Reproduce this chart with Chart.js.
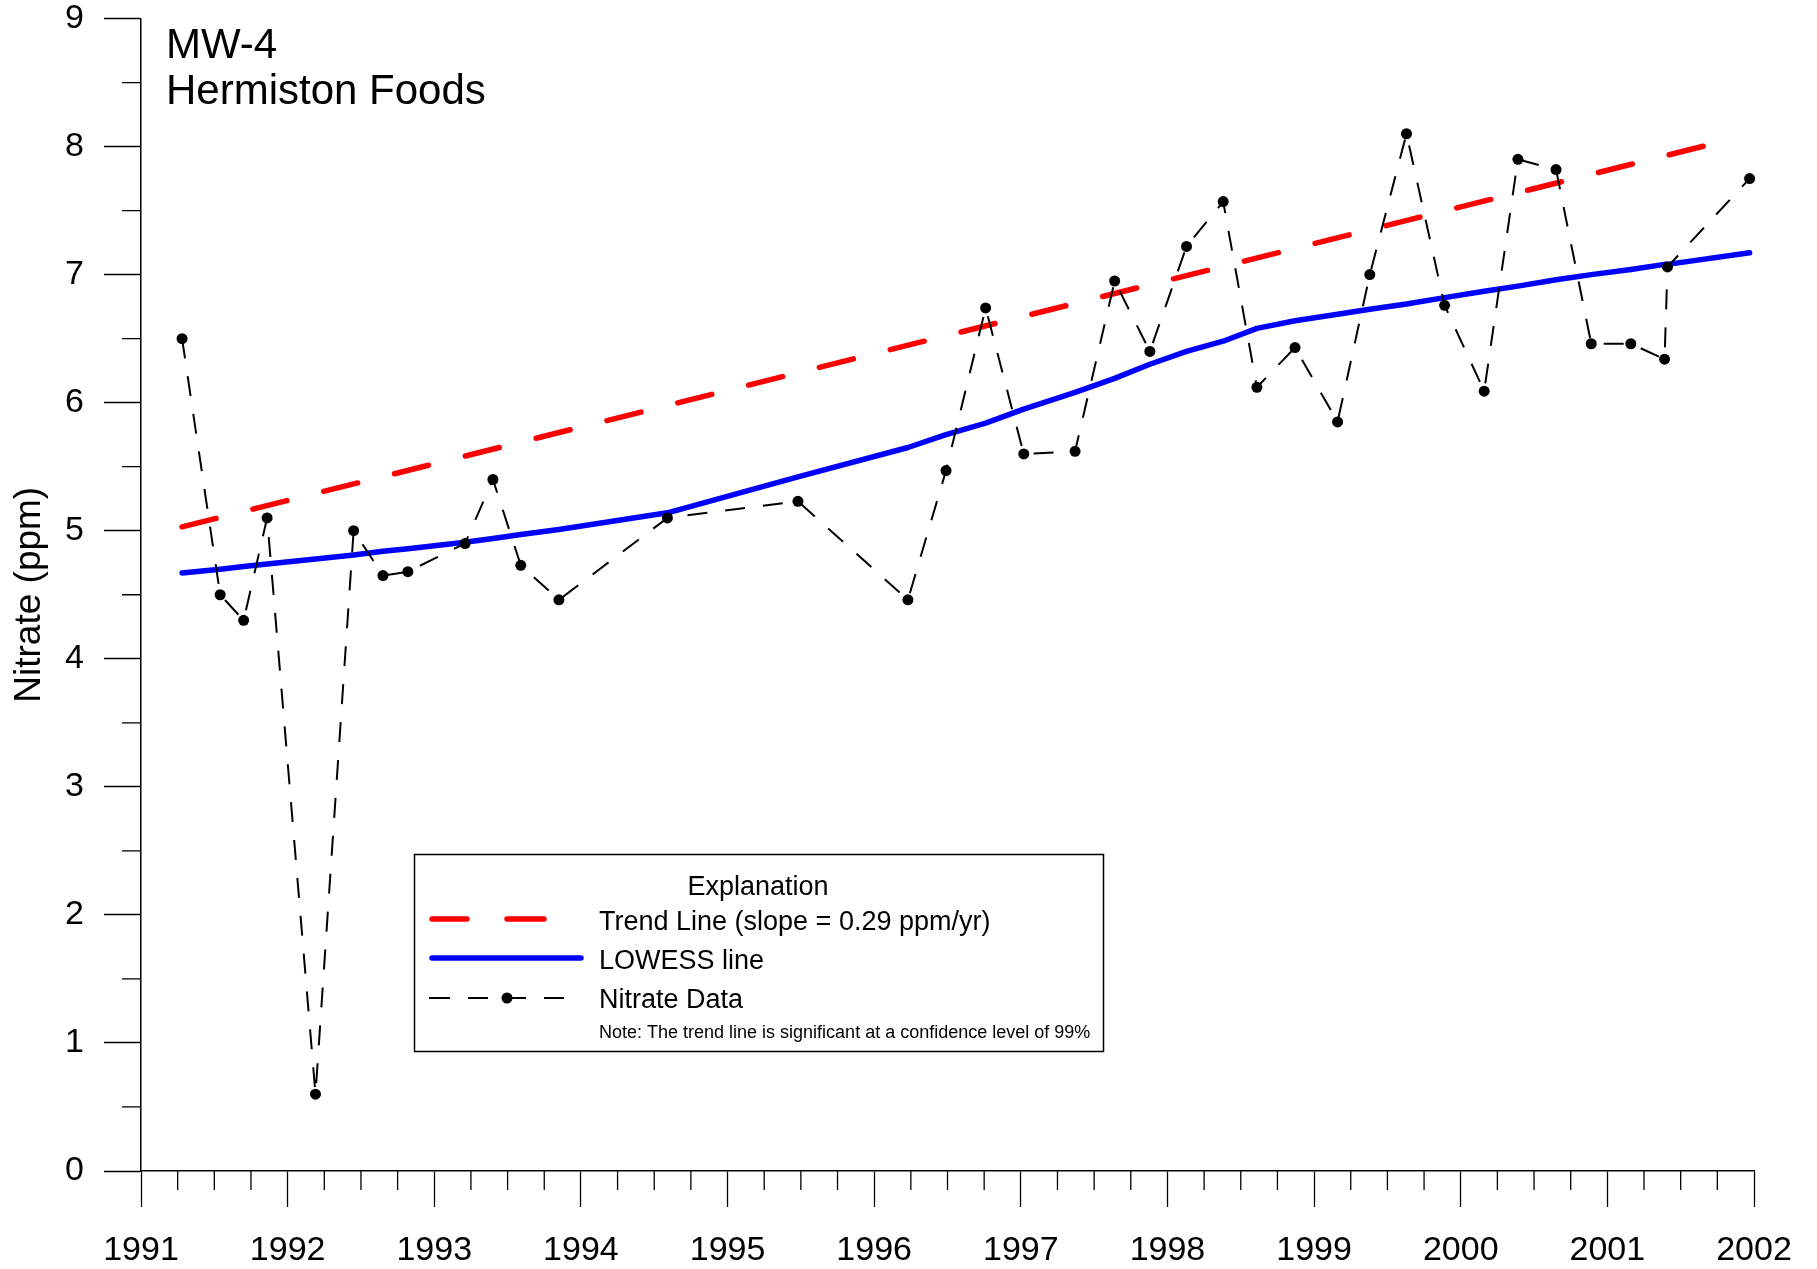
<!DOCTYPE html>
<html>
<head>
<meta charset="utf-8">
<title>MW-4 Hermiston Foods - Nitrate</title>
<script src="https://cdn.jsdelivr.net/npm/chart.js@4.4.1/dist/chart.umd.min.js"></script>
<style>
  html, body { margin: 0; padding: 0; background: #fff; }
  #chart { display: block; }
</style>
</head>
<body>
<canvas id="chart" width="1817" height="1269"></canvas>
<script>
// MW-4 nitrate record

const sampleYears = [
  1991.28, 1991.54, 1991.70, 1991.86, 1992.19, 1992.45, 1992.65, 1992.82,
  1993.21, 1993.40, 1993.59, 1993.85, 1994.59, 1995.48, 1996.23, 1996.49,
  1996.76, 1997.02, 1997.37, 1997.64, 1997.88, 1998.13, 1998.38, 1998.61,
  1998.87, 1999.16, 1999.38, 1999.63, 1999.89, 2000.16, 2000.39, 2000.65,
  2000.89, 2001.16, 2001.39, 2001.41, 2001.97
];

const nitrateValues = [
  6.50, 4.50, 4.30, 5.10, 0.60, 5.00, 4.65, 4.68,
  4.90, 5.40, 4.73, 4.46, 5.10, 5.23, 4.46, 5.47,
  6.74, 5.60, 5.62, 6.95, 6.40, 7.22, 7.57, 6.12,
  6.43, 5.85, 7.00, 8.10, 6.76, 6.09, 7.90, 7.82,
  6.46, 6.46, 6.34, 7.06, 7.75
];

// LOWESS smooth, evaluated at the sample dates
const lowessValues = [
  4.67, 4.70, 4.72, 4.74, 4.78, 4.81, 4.84, 4.86,
  4.91, 4.94, 4.97, 5.01, 5.14, 5.42, 5.65, 5.75,
  5.84, 5.95, 6.08, 6.19, 6.30, 6.40, 6.48, 6.58,
  6.64, 6.69, 6.73, 6.77, 6.82, 6.87, 6.91, 6.96,
  7.00, 7.04, 7.08, 7.08, 7.17
];

// Trend line end points (slope = 0.29 ppm/yr)
const trendYears = [1991.28, 2001.89];
const trendValues = [5.03, 8.07];

// Axis ticks
const yearTicks = [1991, 1992, 1993, 1994, 1995, 1996, 1997, 1998, 1999, 2000, 2001, 2002];
const nitrateTicks = [0, 1, 2, 3, 4, 5, 6, 7, 8, 9];

const titleLines = ['MW-4', 'Hermiston Foods'];
const legendTitle = 'Explanation';
const legendLabels = ['Trend Line (slope = 0.29 ppm/yr)', 'LOWESS line', 'Nitrate Data'];
const legendNote = 'Note: The trend line is significant at a confidence level of 99%';

const FONT = "'Liberation Sans', Arial, Helvetica, sans-serif";

function toPoints(xs, ys) {
  return xs.map((x, i) => ({ x: x, y: ys[i] }));
}

// Half-unit / quarter-year ticks that Chart.js can't do on its own
const minorTicks = {
  id: 'minorTicks',
  afterDraw(chart) {
    const { ctx, chartArea } = chart;
    const x = chart.scales.x;
    const y = chart.scales.y;
    ctx.save();
    ctx.strokeStyle = '#000';
    ctx.lineWidth = 1.3;
    ctx.beginPath();
    for (let i = 0; i < yearTicks.length - 1; i++) {
      for (let q = 1; q < 4; q++) {
        const px = x.getPixelForValue(yearTicks[i] + q / 4);
        ctx.moveTo(px, chartArea.bottom);
        ctx.lineTo(px, chartArea.bottom + 19);
      }
    }
    for (let i = 0; i < nitrateTicks.length - 1; i++) {
      const py = y.getPixelForValue(nitrateTicks[i] + 0.5);
      ctx.moveTo(chartArea.left - 19, py);
      ctx.lineTo(chartArea.left, py);
    }
    ctx.stroke();
    ctx.restore();
  }
};

// Well name in the corner and the boxed explanation
const annotations = {
  id: 'annotations',
  afterDraw(chart) {
    const ctx = chart.ctx;
    ctx.save();
    ctx.fillStyle = '#000';
    ctx.textBaseline = 'alphabetic';
    ctx.font = `42px ${FONT}`;
    ctx.fillText(titleLines[0], 166, 58);
    ctx.fillText(titleLines[1], 166, 104);

    // legend box
    const bx = 414.5, by = 854.5, bw = 689, bh = 197;
    ctx.fillStyle = '#fff';
    ctx.fillRect(bx, by, bw, bh);
    ctx.strokeStyle = '#000';
    ctx.lineWidth = 1.5;
    ctx.strokeRect(bx, by, bw, bh);

    ctx.fillStyle = '#000';
    ctx.font = `27px ${FONT}`;
    ctx.textAlign = 'center';
    ctx.fillText(legendTitle, 758, 895);
    ctx.textAlign = 'left';
    ctx.fillText(legendLabels[0], 599, 930);
    ctx.fillText(legendLabels[1], 599, 969);
    ctx.fillText(legendLabels[2], 599, 1008);
    ctx.font = `18px ${FONT}`;
    ctx.fillText(legendNote, 599, 1038);

    // samples
    ctx.lineCap = 'round';
    ctx.strokeStyle = '#ff0000';
    ctx.lineWidth = 5.5;
    ctx.beginPath();
    ctx.moveTo(432, 919); ctx.lineTo(467, 919);
    ctx.moveTo(507, 919); ctx.lineTo(544, 919);
    ctx.stroke();

    ctx.strokeStyle = '#0000ff';
    ctx.beginPath();
    ctx.moveTo(432, 958); ctx.lineTo(581, 958);
    ctx.stroke();

    ctx.lineCap = 'butt';
    ctx.strokeStyle = '#000';
    ctx.lineWidth = 2;
    ctx.beginPath();
    ctx.moveTo(429, 998); ctx.lineTo(450, 998);
    ctx.moveTo(468, 998); ctx.lineTo(488, 998);
    ctx.moveTo(507, 998); ctx.lineTo(526, 998);
    ctx.moveTo(544, 998); ctx.lineTo(564, 998);
    ctx.stroke();
    ctx.beginPath();
    ctx.arc(507, 998, 5.5, 0, Math.PI * 2);
    ctx.fill();
    ctx.restore();
  }
};

const axisFont = { family: FONT, size: 34, lineHeight: 1.1 };

new Chart(document.getElementById('chart'), {
  type: 'scatter',
  data: {
    datasets: [
      {
        label: legendLabels[2],
        data: toPoints(sampleYears, nitrateValues),
        showLine: true,
        clip: false,
        borderColor: '#000',
        borderWidth: 2,
        borderDash: [20, 18],
        pointRadius: 5.5,
        pointHoverRadius: 5.5,
        pointBackgroundColor: '#000',
        pointBorderWidth: 0,
        order: 1
      },
      {
        label: legendLabels[1],
        data: toPoints(sampleYears, lowessValues),
        showLine: true,
        clip: false,
        borderColor: '#0000ff',
        borderWidth: 5.5,
        borderJoinStyle: 'round',
        borderCapStyle: 'round',
        pointRadius: 0,
        order: 2
      },
      {
        label: legendLabels[0],
        data: toPoints(trendYears, trendValues),
        showLine: true,
        borderColor: '#ff0000',
        borderWidth: 5.5,
        borderDash: [35, 38],
        borderCapStyle: 'round',
        pointRadius: 0,
        order: 3
      }
    ]
  },
  options: {
    responsive: false,
    animation: false,
    devicePixelRatio: 1,
    events: [],
    layout: { padding: { top: 18.5, right: 63, bottom: 0, left: 0 } },
    plugins: {
      legend: { display: false },
      tooltip: { enabled: false }
    },
    scales: {
      x: {
        type: 'linear',
        min: 1991,
        max: 2002,
        afterBuildTicks: (scale) => { scale.ticks = yearTicks.map(v => ({ value: v })); },
        afterFit: (scale) => { scale.height = 98; },
        grid: { drawOnChartArea: false, drawTicks: true, tickLength: 36, tickColor: '#000', tickWidth: 1.3 },
        border: { display: true, color: '#000', width: 1.5 },
        ticks: {
          color: '#000',
          font: axisFont,
          padding: 25,
          maxRotation: 0,
          autoSkip: false,
          callback: (v) => String(v)
        }
      },
      y: {
        type: 'linear',
        min: 0,
        max: 9,
        afterBuildTicks: (scale) => { scale.ticks = nitrateTicks.map(v => ({ value: v })); },
        afterFit: (scale) => {
          scale.width = 141;
          // the top label may hang into the margin; don't push the plot down
          scale.paddingTop = 0;
          scale.paddingBottom = 0;
        },
        grid: { drawOnChartArea: false, drawTicks: true, tickLength: 37, tickColor: '#000', tickWidth: 1.3 },
        border: { display: true, color: '#000', width: 1.5 },
        title: {
          display: true,
          text: 'Nitrate (ppm)',
          color: '#000',
          font: { family: FONT, size: 37 },
          padding: { top: 8, bottom: 0 }
        },
        ticks: {
          color: '#000',
          font: axisFont,
          padding: 20,
          autoSkip: false,
          callback: (v) => String(v)
        }
      }
    }
  },
  plugins: [minorTicks, annotations]
});
</script>
</body>
</html>
